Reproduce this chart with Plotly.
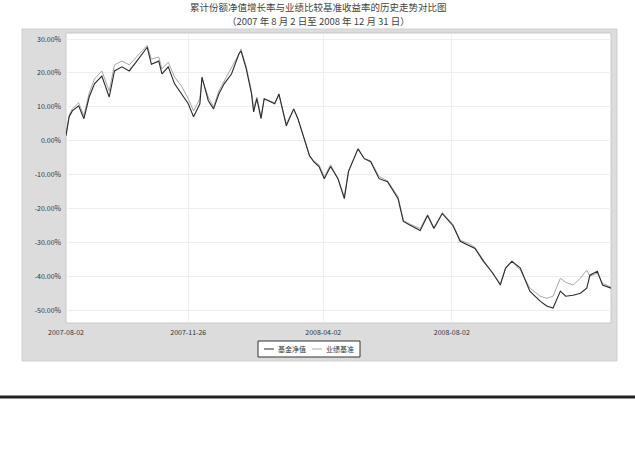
import plotly.graph_objects as go

dates = [
    "2007-08-02", "2007-08-05", "2007-08-08", "2007-08-14", "2007-08-19", "2007-08-24", "2007-08-29",
    "2007-09-05", "2007-09-12", "2007-09-17", "2007-09-24", "2007-10-01", "2007-10-06", "2007-10-13",
    "2007-10-18", "2007-10-22", "2007-10-29", "2007-11-01", "2007-11-07", "2007-11-13", "2007-11-20",
    "2007-11-26", "2007-12-01", "2007-12-07", "2007-12-09", "2007-12-15", "2007-12-20", "2007-12-25",
    "2007-12-30", "2008-01-06", "2008-01-13", "2008-01-15", "2008-01-20", "2008-01-25", "2008-01-27",
    "2008-01-30", "2008-02-03", "2008-02-06", "2008-02-16", "2008-02-20", "2008-02-27", "2008-03-05",
    "2008-03-09", "2008-03-15", "2008-03-20", "2008-03-24", "2008-03-29", "2008-04-03", "2008-04-09",
    "2008-04-16", "2008-04-22", "2008-04-26", "2008-05-05", "2008-05-11", "2008-05-17", "2008-05-25",
    "2008-06-02", "2008-06-12", "2008-06-17", "2008-06-24", "2008-07-03", "2008-07-10", "2008-07-16",
    "2008-07-24", "2008-08-03", "2008-08-10", "2008-08-18", "2008-08-24", "2008-09-01", "2008-09-10",
    "2008-09-17", "2008-09-22", "2008-09-28", "2008-10-06", "2008-10-15", "2008-10-25", "2008-10-31",
    "2008-11-06", "2008-11-13", "2008-11-18", "2008-11-25", "2008-12-02", "2008-12-08", "2008-12-11",
    "2008-12-18", "2008-12-23", "2008-12-31",
]

fund = [
    1.5, 7.1, 8.8, 10.3, 6.5, 12.9, 16.8, 19.1, 12.9, 20.6, 21.8, 20.6, 22.6, 25.6,
    27.6, 22.6, 23.5, 19.7, 21.8, 16.8, 13.8, 10.9, 7.1, 10.9, 18.8, 11.8, 9.4, 13.8,
    16.8, 19.7, 25.6, 26.5, 21.2, 13.8, 8.5, 12.4, 6.5, 12.4, 10.9, 13.8, 4.4, 9.4,
    6.5, 0.6, -4.4, -6.2, -7.6, -11.2, -7.6, -11.2, -17.1, -9.1, -2.4, -5.3, -6.2, -11.2,
    -12.1, -17.1, -23.8, -25.0, -26.5, -22.1, -25.9, -21.5, -25.0, -29.7, -30.9, -31.8, -35.6, -39.1,
    -42.6, -37.6, -35.6, -37.6, -44.4, -47.4, -48.8, -49.4, -44.4, -45.9, -45.6, -45.0, -43.5, -39.7,
    -38.5, -42.6, -43.5,
]

bench = [
    1.5, 7.6, 9.4, 11.2, 7.4, 14.1, 18.2, 20.6, 14.7, 22.4, 23.5, 22.4, 24.1, 26.5,
    28.2, 24.1, 24.7, 21.2, 23.2, 18.8, 15.9, 12.4, 8.8, 12.4, 18.2, 12.9, 10.0, 14.7,
    17.6, 21.2, 25.6, 27.1, 21.8, 14.7, 9.4, 12.9, 7.1, 12.4, 11.2, 13.5, 5.0, 9.4,
    6.5, 0.6, -4.4, -5.9, -7.1, -10.6, -7.1, -11.2, -16.5, -8.8, -2.4, -5.3, -5.9, -10.6,
    -11.8, -16.5, -23.5, -24.7, -25.9, -21.8, -25.6, -21.2, -24.7, -29.4, -30.3, -31.5, -35.3, -39.4,
    -42.1, -37.6, -35.6, -38.2, -43.5, -45.9, -46.5, -45.9, -40.6, -41.8, -42.6, -40.6, -38.2, -40.0,
    -39.1, -42.1, -43.2,
]

y_ticks = [30, 20, 10, 0, -10, -20, -30, -40, -50]
y_tick_text = ["30.00%", "20.00%", "10.00%", "0.00%", "-10.00%", "-20.00%", "-30.00%", "-40.00%", "-50.00%"]
x_ticks = ["2007-08-02", "2007-11-26", "2008-04-02", "2008-08-02"]
x_tick_text = ["2007-08-02", "2007-11-26", "2008-04-02", "2008-08-02"]

series_names = ["基金净值", "业绩基准"]
series_colors = ["#2a2a2a", "#a8a8a8"]
title_lines = ["累计份额净值增长率与业绩比较基准收益率的历史走势对比图",
               "（2007 年 8 月 2 日至 2008 年 12 月 31 日）"]

FONT = "Noto Sans CJK SC, Noto Sans, sans-serif"
W, H = 635, 449
L, T, R, B = 66, 33, 635 - 611, 449 - 323
PW, PH = W - L - R, H - T - B

def px(x):
    return (x - L) / PW

def py(y):
    return (H - B - y) / PH

fig = go.Figure()
fig.add_trace(go.Scatter(x=dates, y=bench, mode="lines", name=series_names[1],
                         line=dict(color=series_colors[1], width=1)))
fig.add_trace(go.Scatter(x=dates, y=fund, mode="lines", name=series_names[0],
                         line=dict(color=series_colors[0], width=1.1)))

shapes = [
    dict(type="rect", xref="paper", yref="paper", x0=px(22), x1=px(617), y0=py(361), y1=py(29),
         fillcolor="#dcdcdc", line=dict(color="#cfcfcf", width=1), layer="below"),
    dict(type="rect", xref="paper", yref="paper", x0=0, x1=1, y0=0, y1=1,
         fillcolor="#ffffff", line=dict(color="#c8c8c8", width=1), layer="below"),
    dict(type="line", xref="paper", yref="paper", x0=px(0), x1=px(635), y0=py(397), y1=py(397),
         line=dict(color="#222222", width=3)),
    # legend box
    dict(type="rect", xref="paper", yref="paper", x0=px(258), x1=px(360), y0=py(357), y1=py(341),
         fillcolor="#ffffff", line=dict(color="#333333", width=1)),
    dict(type="line", xref="paper", yref="paper", x0=px(264), x1=px(274), y0=py(349), y1=py(349),
         line=dict(color=series_colors[0], width=1)),
    dict(type="line", xref="paper", yref="paper", x0=px(312), x1=px(322), y0=py(349), y1=py(349),
         line=dict(color=series_colors[1], width=1)),
]

annotations = [
    dict(text=title_lines[0], xref="paper", yref="paper",
         x=px(318), y=py(7), showarrow=False,
         xanchor="center", yanchor="middle", font=dict(family=FONT, size=9.5, color="#444444")),
    dict(text=title_lines[1], xref="paper", yref="paper",
         x=px(318), y=py(21), showarrow=False,
         xanchor="center", yanchor="middle", font=dict(family=FONT, size=9.5, color="#444444")),
    dict(text=series_names[0], xref="paper", yref="paper", x=px(276), y=py(349), showarrow=False,
         xanchor="left", yanchor="middle", font=dict(family=FONT, size=7, color="#333333")),
    dict(text=series_names[1], xref="paper", yref="paper", x=px(324), y=py(349), showarrow=False,
         xanchor="left", yanchor="middle", font=dict(family=FONT, size=7, color="#333333")),
]

fig.update_layout(
    width=W, height=H,
    margin=dict(l=L, r=R, t=T, b=B, autoexpand=False),
    paper_bgcolor="#ffffff",
    plot_bgcolor="rgba(0,0,0,0)",
    showlegend=False,
    hovermode=False,
    shapes=shapes,
    annotations=annotations,
    xaxis=dict(type="date", range=["2007-08-02", "2008-12-31"], tickvals=x_ticks, ticktext=x_tick_text,
               showgrid=True, gridcolor="#efefef", gridwidth=1, zeroline=False, showline=False,
               tickfont=dict(family=FONT, size=7, color="#333333"), ticks="", ticklabelstandoff=4),
    yaxis=dict(range=[-53.8, 31.8], tickvals=y_ticks, ticktext=y_tick_text,
               showgrid=True, gridcolor="#efefef", gridwidth=1, zeroline=False, showline=False,
               tickfont=dict(family=FONT, size=7, color="#333333"), ticks="", ticklabelstandoff=4),
)

fig.write_html("out.html", config={"displayModeBar": False},
               post_script="document.body.style.margin='0';document.body.style.overflow='hidden';")
